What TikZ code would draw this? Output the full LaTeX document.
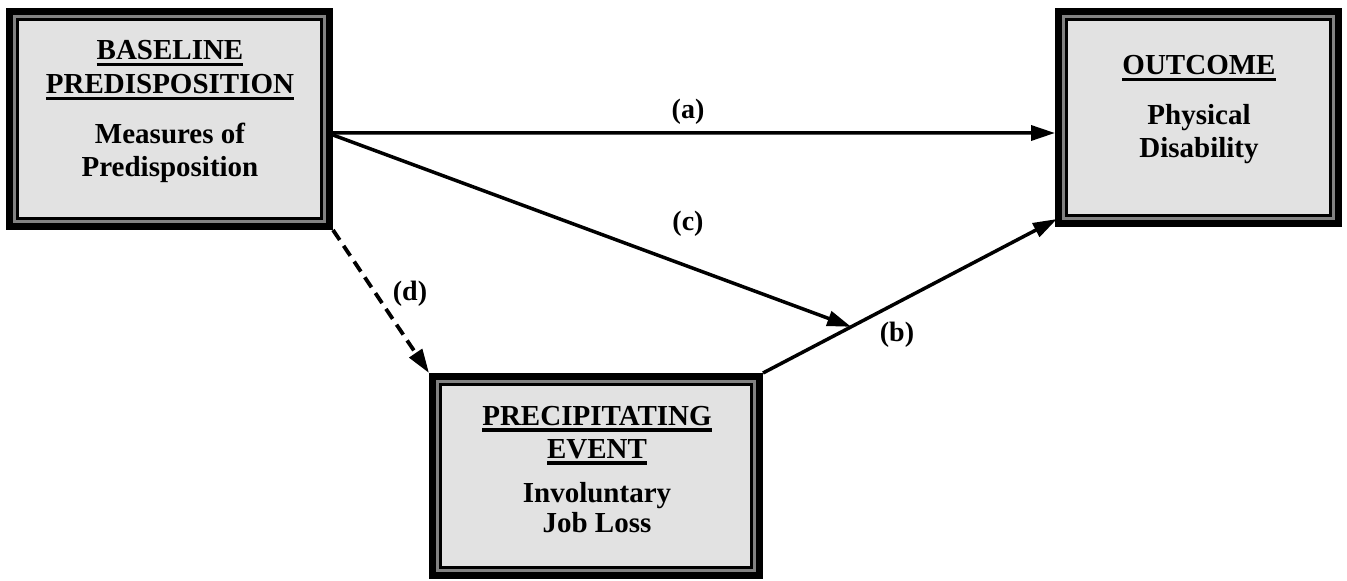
\documentclass[tikz,border=0pt]{standalone}
\usepackage{fontspec}
\setmainfont{Liberation Serif}
\usetikzlibrary{arrows.meta,calc}
\definecolor{bandgray}{RGB}{130,130,130}
\definecolor{boxfill}{RGB}{226,226,226}
\newcommand\ulword[1]{\setbox0\hbox{#1}\rlap{\rule[-6.5bp]{\wd0}{3.2bp}}\box0}
\begin{document}
\begin{tikzpicture}[x=1bp,y=-1bp,
  frame/.style={draw=black, line width=7bp, fill=bandgray, inner sep=0pt,
    path picture={\draw[line width=2.6bp, fill=boxfill]
      ([xshift=8bp,yshift=-8bp]path picture bounding box.north west) rectangle
      ([xshift=-8bp,yshift=8bp]path picture bounding box.south east);}},
  txt/.style={font=\fontsize{29bp}{34bp}\selectfont\bfseries, anchor=base, inner sep=0pt},
  lbl/.style={font=\fontsize{28bp}{34bp}\selectfont\bfseries, inner sep=0pt},
  arr/.style={line width=3.5bp, -{Triangle[length=24bp,width=15bp]}},
  dasharr/.style={arr, line width=3.8bp, dash pattern=on 12bp off 7bp}
]
\useasboundingbox (0,0) rectangle (1347,581);
\fill[white] (0,0) rectangle (1347,581);

\node[frame, minimum width=320bp, minimum height=215bp] (base) at (169.5,119) {};
\node[frame, minimum width=280bp, minimum height=212bp] (outc) at (1198.5,117.5) {};
\node[frame, minimum width=327bp, minimum height=199bp] (bot) at (596,476) {};

\node[txt] (b1) at (170,60) {\ulword{BASELINE}};
\node[txt] (b2) at (170,94) {\ulword{PREDISPOSITION}};
\node[txt] (b3) at (170,144) {Measures of};
\node[txt] (b4) at (170,177) {Predisposition};

\node[txt] (o1) at (1199,75) {\ulword{OUTCOME}};
\node[txt] (o2) at (1199,125) {Physical};
\node[txt] (o3) at (1199,158) {Disability};

\node[txt] (p1) at (597,425) {\ulword{PRECIPITATING}};
\node[txt] (p2) at (597,458) {\ulword{EVENT}};
\node[txt] (p3) at (597,502) {Involuntary};
\node[txt] (p4) at (597,532) {Job Loss};

\coordinate (btip) at ([xshift=2bp,yshift=8bp]outc.south west);
\coordinate (bjoin) at ($(bot.north east)!0.30!(btip)$);

\draw[arr] ([yshift=-14bp]base.east) -- ([yshift=-15.5bp]outc.west);
\draw[arr] (bot.north east) -- (btip);
\draw[arr] ([yshift=-16bp]base.east) -- (bjoin);
\draw[dasharr] (base.south east) -- (bot.north west);

\node[lbl] (la) at (688,112) {(a)};
\node[lbl] (lc) at (688,224) {(c)};
\node[lbl] (ld) at (410,294) {(d)};
\node[lbl] (lb) at (897,335) {(b)};
\end{tikzpicture}
\end{document}
